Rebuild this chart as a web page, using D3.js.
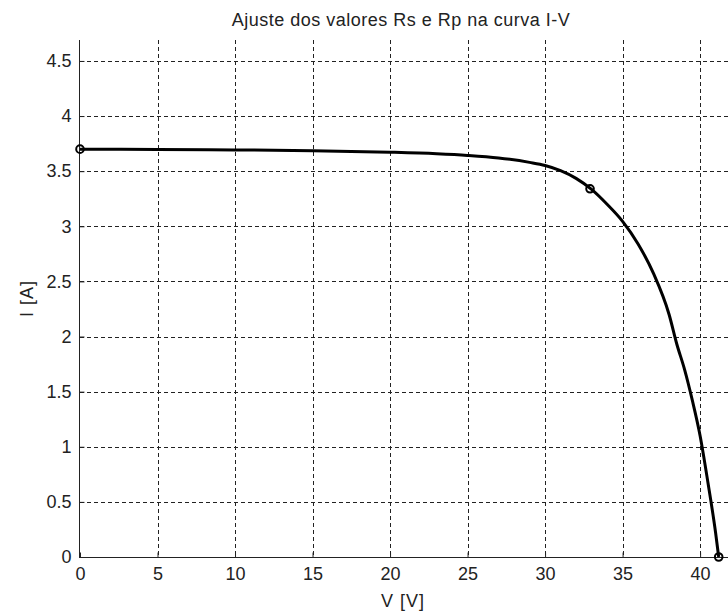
<!DOCTYPE html>
<html lang="pt">

<head>
    <meta charset="UTF-8">
    <script src="https://cdn.jsdelivr.net/npm/d3@7"></script>
    <title>Ajuste dos valores Rs e Rp na curva I-V</title>
    <style>
        body { margin: 0; background: #fff; }
        text { font-family: "Liberation Sans", Arial, sans-serif; fill: #222; }
    </style>
</head>

<body>
    <script>
        var width = 728;
        var height = 612;

        // curva I-V ajustada
        var tensao = [0, 5, 10, 15, 20, 23, 25, 27, 29, 30, 31, 32, 33, 34, 35, 36, 37, 38, 38.5, 39, 39.5, 40, 40.5, 41, 41.2];
        var corrente = [3.700, 3.697, 3.693, 3.686, 3.672, 3.658, 3.643, 3.620, 3.580, 3.552, 3.505, 3.435, 3.335, 3.200, 3.045, 2.840, 2.570, 2.200, 1.930, 1.700, 1.420, 1.100, 0.680, 0.220, 0];

        // pontos notaveis (Isc, MPP, Voc)
        var pontosV = [0, 32.9, 41.2];
        var pontosI = [3.70, 3.34, 0];

        var xTicks = [0, 5, 10, 15, 20, 25, 30, 35, 40];
        var yTicks = [0, 0.5, 1, 1.5, 2, 2.5, 3, 3.5, 4, 4.5];

        var mLeft = 80, mRight = 728, mTop = 40, mBottom = 557;

        var x = d3.scaleLinear().domain([0, 41.8]).range([mLeft, mRight]);
        var y = d3.scaleLinear().domain([0, 4.69]).range([mBottom, mTop]);

        var svg = d3.select("body").append("svg").attr("width", width).attr("height", height);

        // grade tracejada
        svg.append("g").selectAll("line").data(xTicks.slice(1)).enter().append("line")
            .attr("x1", function (d) { return Math.round(x(d)) + 0.5; })
            .attr("x2", function (d) { return Math.round(x(d)) + 0.5; })
            .attr("y1", mTop).attr("y2", mBottom)
            .attr("stroke", "#222").attr("stroke-dasharray", "4,3");
        svg.append("g").selectAll("line").data(yTicks.slice(1)).enter().append("line")
            .attr("y1", function (d) { return Math.round(y(d)) + 0.5; })
            .attr("y2", function (d) { return Math.round(y(d)) + 0.5; })
            .attr("x1", mLeft).attr("x2", mRight)
            .attr("stroke", "#222").attr("stroke-dasharray", "4,3");

        // eixos
        var xAxis = d3.axisBottom(x).tickValues(xTicks).tickSize(-5).tickPadding(10).tickFormat(d3.format("d"));
        var yAxis = d3.axisLeft(y).tickValues(yTicks).tickSize(-5).tickPadding(8).tickFormat(function (d) { return String(d); });

        var gx = svg.append("g").attr("transform", "translate(0," + (mBottom + 0.5) + ")").call(xAxis);
        var gy = svg.append("g").attr("transform", "translate(" + (mLeft - 0.5) + ",0)").call(yAxis);

        [gx, gy].forEach(function (g) {
            g.select(".domain").remove();
            g.selectAll(".tick line").attr("stroke", "#222");
            g.selectAll(".tick text").style("font-size", "18px").attr("fill", "#222");
        });
        svg.append("line").attr("x1", mLeft - 1).attr("x2", mRight).attr("y1", mBottom + 0.5).attr("y2", mBottom + 0.5).attr("stroke", "#222");
        svg.append("line").attr("x1", mLeft - 0.5).attr("x2", mLeft - 0.5).attr("y1", mTop).attr("y2", mBottom + 0.5).attr("stroke", "#222");

        // curva
        var pontos = tensao.map(function (v, i) { return [v, corrente[i]]; });
        var linha = d3.line().x(function (d) { return x(d[0]); }).y(function (d) { return y(d[1]); }).curve(d3.curveMonotoneX);
        svg.append("path").datum(pontos).attr("d", linha)
            .attr("fill", "none").attr("stroke", "#000").attr("stroke-width", 3);

        svg.append("g").selectAll("circle").data(pontosV).enter().append("circle")
            .attr("cx", function (d) { return x(d); })
            .attr("cy", function (d, i) { return y(pontosI[i]); })
            .attr("r", 3.8)
            .attr("fill", "none").attr("stroke", "#000").attr("stroke-width", 2);

        // textos
        svg.append("text").attr("x", 401).attr("y", 26).attr("text-anchor", "middle")
            .style("font-size", "18px").style("letter-spacing", "0.5px").text("Ajuste dos valores Rs e Rp na curva I-V");
        svg.append("text").attr("x", 403).attr("y", 607).attr("text-anchor", "middle")
            .style("font-size", "18px").style("letter-spacing", "1px").text("V [V]");
        svg.append("text").attr("transform", "translate(33," + ((mTop + mBottom) / 2) + ") rotate(-90)")
            .attr("text-anchor", "middle").style("font-size", "18px").style("letter-spacing", "1px").text("I [A]");
    </script>
</body>

</html>
